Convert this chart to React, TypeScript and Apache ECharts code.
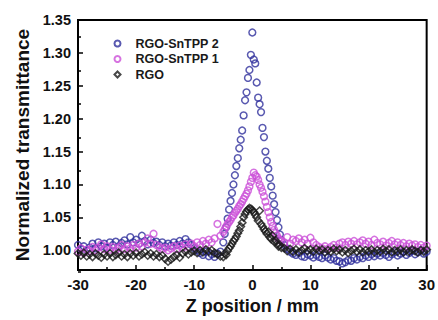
import { useEffect, useRef } from "react";
import * as echarts from "echarts";

const seriesNames = ["RGO-SnTPP 2", "RGO-SnTPP 1", "RGO"];

const zPositions = [
  -30, -29.5, -29, -28.5, -28, -27.5, -27, -26.5, -26, -25.5,
  -25, -24.5, -24, -23.5, -23, -22.5, -22, -21.5, -21, -20.5,
  -20, -19.5, -19, -18.5, -18, -17.5, -17, -16.5, -16, -15.5,
  -15, -14.5, -14, -13.5, -13, -12.5, -12, -11.5, -11, -10.5,
  -10, -9.5, -9, -8.5, -8, -7.5, -7, -6.5, -6, -5.5,
  -5, -4.75, -4.5, -4.25, -4, -3.75, -3.5, -3.25, -3, -2.75,
  -2.5, -2.25, -2, -1.75, -1.5, -1.25, -1, -0.75, -0.5, -0.25,
  0, 0.25, 0.5, 0.75, 1, 1.25, 1.5, 1.75, 2, 2.25,
  2.5, 2.75, 3, 3.25, 3.5, 3.75, 4, 4.25, 4.5, 4.75,
  5,
  5.5, 6, 6.5, 7, 7.5, 8, 8.5, 9, 9.5, 10,
  10.5, 11, 11.5, 12, 12.5, 13, 13.5, 14, 14.5, 15,
  15.5, 16, 16.5, 17, 17.5, 18, 18.5, 19, 19.5, 20,
  20.5, 21, 21.5, 22, 22.5, 23, 23.5, 24, 24.5, 25,
  25.5, 26, 26.5, 27, 27.5, 28, 28.5, 29, 29.5, 30,
];

const rgoSnTPP2 = [
  1.008, 1.002, 1.006, 1.000, 1.004, 1.010, 1.003, 1.012, 1.006, 1.010,
  1.004, 1.012, 1.008, 1.013, 1.006, 1.011, 1.015, 1.009, 1.020, 1.012,
  1.016, 1.010, 1.022, 1.014, 1.009, 1.016, 1.011, 1.013, 1.008, 1.012,
  1.006, 1.010, 1.007, 1.012, 1.008, 1.014, 1.010, 1.017, 1.012, 1.008,
  1.003, 1.000, 0.996, 0.993, 0.998, 0.991, 0.994, 0.990, 0.995, 0.998,
  1.012, 1.025, 1.035, 1.048, 1.062, 1.075, 1.087, 1.100, 1.114, 1.128,
  1.140, 1.155, 1.168, 1.182, 1.205, 1.228, 1.240, 1.262, 1.274, 1.297,
  1.331, 1.290, 1.284, 1.255, 1.232, 1.222, 1.210, 1.186, 1.172, 1.150,
  1.136, 1.124, 1.110, 1.097, 1.083, 1.070, 1.058, 1.046, 1.035, 1.024,
  1.015,
  1.008, 1.002, 0.998, 0.995, 0.993, 0.996, 0.991, 0.990, 0.994, 0.992,
  0.989, 0.993, 0.990, 0.988, 0.992, 0.989, 0.986, 0.988, 0.984, 0.983,
  0.980, 0.982, 0.985, 0.984, 0.988, 0.986, 0.990, 0.988, 0.992, 0.990,
  0.994, 0.991, 0.995, 0.992, 0.996, 0.993, 0.990, 0.994, 0.997, 0.992,
  0.995, 0.998, 0.993, 0.996, 0.999, 0.994, 0.997, 1.000, 0.995, 0.998,
];

const rgoSnTPP1 = [
  0.998, 1.003, 0.996, 1.001, 0.999, 1.005, 1.000, 1.004, 1.009, 1.002,
  1.006, 1.001, 1.005, 1.000, 1.004, 1.008, 1.002, 1.006, 1.003, 1.008,
  1.004, 1.010, 1.006, 1.012, 1.018, 1.010, 1.025, 1.008, 1.005, 1.002,
  1.004, 1.000, 1.003, 1.006, 1.002, 1.007, 1.004, 1.009, 1.005, 1.010,
  1.006, 1.012, 1.008, 1.014, 1.010, 1.016, 1.012, 1.018, 1.040, 1.022,
  1.028, 1.032, 1.036, 1.040, 1.043, 1.046, 1.050, 1.053, 1.057, 1.060,
  1.063, 1.067, 1.070, 1.074, 1.078, 1.082, 1.086, 1.091, 1.097, 1.104,
  1.110, 1.118, 1.114, 1.112, 1.107, 1.100, 1.095, 1.089, 1.082, 1.074,
  1.066, 1.058, 1.050, 1.043, 1.037, 1.031, 1.026, 1.022, 1.018, 1.016,
  1.014,
  1.012, 1.020, 1.010, 1.016, 1.014, 1.018, 1.012, 1.016, 1.010, 1.019,
  1.012, 1.008, 1.005, 1.003, 1.006, 1.002, 1.005, 1.008, 1.004, 1.010,
  1.012, 1.008, 1.013, 1.010, 1.014, 1.009, 1.012, 1.015, 1.010, 1.013,
  1.008, 1.016, 1.011, 1.009, 1.013, 1.007, 1.011, 1.014, 1.009, 1.012,
  1.008, 1.011, 1.006, 1.010, 1.007, 1.009, 1.005, 1.008, 1.004, 1.007,
];

const rgo = [
  0.995, 0.992, 0.996, 0.991, 0.994, 0.990, 0.995, 0.992, 0.989, 0.994,
  0.991, 0.995, 0.990, 0.993, 0.996, 0.991, 0.994, 0.990, 0.995, 0.992,
  0.996, 0.991, 0.994, 0.997, 0.992, 0.995, 0.991, 0.994, 0.990, 0.992,
  0.987, 0.983, 0.986, 0.990, 0.993, 0.989, 0.995, 0.998, 0.994, 0.997,
  0.999, 0.996, 1.000, 0.997, 1.001, 0.998, 1.000, 0.996, 0.994, 0.991,
  0.990, 0.995, 0.993, 0.999, 1.003, 1.006, 1.010, 1.014, 1.017, 1.021,
  1.026, 1.030, 1.036, 1.042, 1.050, 1.055, 1.059, 1.062, 1.064, 1.063,
  1.061, 1.058, 1.054, 1.050, 1.045, 1.060, 1.040, 1.036, 1.032, 1.029,
  1.025, 1.028, 1.020, 1.017, 1.022, 1.013, 1.015, 1.010, 1.006, 1.008,
  1.004,
  1.003, 0.999, 1.002, 0.998, 1.001, 0.997, 1.000, 1.003, 0.999, 1.001,
  0.998, 1.002, 0.999, 1.001, 0.997, 1.000, 0.998, 1.002, 0.999, 1.001,
  0.997, 1.000, 0.996, 0.999, 1.002, 0.998, 1.001, 0.997, 1.000, 0.998,
  1.001, 0.997, 1.000, 0.998, 1.002, 0.999, 1.001, 0.997, 1.000, 0.998,
  1.001, 0.997, 1.000, 0.998, 1.001, 0.999, 0.997, 1.000, 0.998, 1.001,
];

const yTickValues = [1.0, 1.05, 1.1, 1.15, 1.2, 1.25, 1.3, 1.35];
const yMinorTickValues = [0.975, 1.025, 1.075, 1.125, 1.175, 1.225, 1.275, 1.325];

const FONT = '"Liberation Sans", Arial, Helvetica, sans-serif';
const colors = ["#2f2f9c", "#cc50d8", "#1a1a1a"];

export default function App() {
  const ref = useRef<HTMLDivElement>(null);
  useEffect(() => {
    const chart = echarts.init(ref.current!, null, { renderer: "svg" });
    const pairs = (vals: number[]) => zPositions.map((z, i) => [z, vals[i]]);
    const seriesData = [rgoSnTPP2, rgoSnTPP1, rgo];
    const symbols = ["circle", "circle", "diamond"];
    const sizes = [6.8, 6.8, 7.5];
    chart.setOption({
      animation: false,
      backgroundColor: "#fff",
      grid: [
        { left: 78, right: 10, top: 20, bottom: 45, show: true, borderColor: "#000", borderWidth: 2, backgroundColor: "transparent" },
        { left: 78, right: 10, top: 20, bottom: 45, show: false },
      ],
      legend: {
        orient: "vertical",
        left: 108.5,
        top: 32,
        itemWidth: 6,
        itemHeight: 6,
        itemGap: 2.5,
        data: seriesNames,
        textStyle: {
          fontFamily: FONT,
          fontWeight: "bold",
          fontSize: 12.5,
          color: "#1a1a1a",
          lineHeight: 12,
          padding: [0, 0, 0, 10],
        },
      },
      xAxis: [
        {
          type: "value",
          gridIndex: 0,
          min: -30,
          max: 30,
          interval: 10,
          name: "Z position / mm",
          nameLocation: "middle",
          nameGap: 27,
          nameTextStyle: { fontFamily: FONT, fontWeight: "bold", fontSize: 18, color: "#111" },
          axisLine: { show: true, onZero: false, lineStyle: { color: "#000", width: 2 } },
          axisTick: { show: true, inside: true, length: 5, lineStyle: { color: "#000", width: 1.5 } },
          minorTick: { show: true, splitNumber: 2, length: 3, lineStyle: { color: "#000", width: 1.5 } },
          axisLabel: { fontFamily: FONT, fontWeight: "bold", fontSize: 15, color: "#111", margin: 7 },
          splitLine: { show: false },
          minorSplitLine: { show: false },
        },
        { type: "value", gridIndex: 1, min: -30, max: 30, show: false },
      ],
      yAxis: [
        {
          type: "value",
          gridIndex: 0,
          min: 0.97,
          max: 1.35,
          name: "Normalized transmittance",
          nameLocation: "middle",
          nameGap: 45,
          nameTextStyle: { fontFamily: FONT, fontWeight: "bold", fontSize: 19, color: "#111" },
          axisLine: { show: true, onZero: false, lineStyle: { color: "#000", width: 2 } },
          axisTick: { show: true, inside: true, length: 5, customValues: yTickValues, lineStyle: { color: "#000", width: 1.5 } },
          axisLabel: {
            customValues: yTickValues,
            formatter: (v: number) => v.toFixed(2),
            fontFamily: FONT,
            fontWeight: "bold",
            fontSize: 14.5,
            color: "#111",
            margin: 7,
          },
          splitLine: { show: false },
        },
        {
          type: "value",
          gridIndex: 1,
          min: 0.97,
          max: 1.35,
          axisLine: { show: false, onZero: false },
          axisTick: { show: true, inside: true, length: 3, customValues: yMinorTickValues, lineStyle: { color: "#000", width: 1.5 } },
          axisLabel: { show: false },
          splitLine: { show: false },
        },
      ],
      series: seriesNames.map((name, k) => ({
        name,
        type: "scatter",
        xAxisIndex: 0,
        yAxisIndex: 0,
        symbol: symbols[k],
        symbolSize: sizes[k],
        data: pairs(seriesData[k]),
        itemStyle: { color: "rgba(0,0,0,0)", borderColor: colors[k], borderWidth: 1.5 },
        emphasis: { disabled: true },
      })),
    });
    return () => chart.dispose();
  }, []);
  return <div ref={ref} style={{ width: 438, height: 320, position: "absolute", left: 0, top: 0 }} />;
}
